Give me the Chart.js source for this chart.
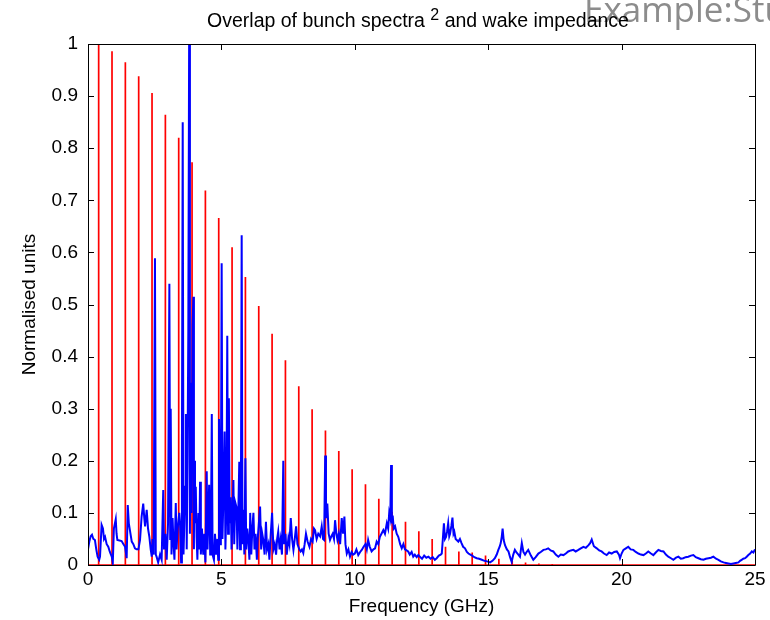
<!DOCTYPE html>
<html>
<head>
<meta charset="utf-8">
<script src="https://cdn.jsdelivr.net/npm/chart.js@4"></script>
<style>
  html, body { margin: 0; padding: 0; background: #fff; }
  #wrap { width: 770px; height: 620px; }
</style>
</head>
<body>
<div id="wrap"><canvas id="overlapChart" width="770" height="620"></canvas></div>
<script>
// bunch spectrum squared: harmonic lines (GHz) and heights
const harmonicFreq = [0.4, 0.9, 1.4, 1.9, 2.4, 2.9, 3.4, 3.9, 4.4, 4.9, 5.4, 5.9, 6.4, 6.9, 7.4, 7.9, 8.4, 8.9,
    9.4, 9.9, 10.4, 10.9, 11.4, 11.9, 12.4, 12.9, 13.4, 13.9, 14.4, 14.9, 15.4, 15.9, 16.4, 16.9, 17.4];
const harmonicAmp = [1.0, 0.986, 0.965, 0.938, 0.906, 0.864, 0.820, 0.773, 0.719, 0.666, 0.610, 0.553, 0.497, 0.444,
    0.393, 0.343, 0.299, 0.258, 0.219, 0.184, 0.155, 0.127, 0.102, 0.083, 0.065, 0.050, 0.035, 0.026, 0.024, 0.018,
    0.012, 0.008, 0.005, 0.003, 0.002];

// wake impedance (blue)
const wakeFreq = [0.00, 0.05, 0.10, 0.15, 0.20, 0.26, 0.31, 0.36, 0.42, 0.45, 0.51, 0.56, 0.60, 0.64, 0.70, 0.76, 0.82,
    0.89, 0.93, 0.97, 1.04, 1.07, 1.10, 1.18, 1.26, 1.33, 1.39, 1.45, 1.49, 1.53, 1.57, 1.64, 1.70, 1.76, 1.82, 1.89,
    1.95, 2.01, 2.07, 2.11, 2.14, 2.20, 2.25, 2.30, 2.35, 2.39, 2.42, 2.46, 2.51, 2.54, 2.57, 2.63, 2.70, 2.76, 2.82,
    2.85, 2.90, 2.95, 3.00, 3.05, 3.08, 3.10, 3.13, 3.17, 3.20, 3.24, 3.29, 3.32, 3.36, 3.42, 3.45, 3.49, 3.52, 3.55,
    3.58, 3.61, 3.64, 3.67, 3.70, 3.73, 3.76, 3.79, 3.82, 3.85, 3.88, 3.92, 3.95, 3.97, 3.98, 4.01, 4.04, 4.07, 4.10,
    4.14, 4.17, 4.20, 4.23, 4.27, 4.32, 4.36, 4.40, 4.45, 4.48, 4.51, 4.54, 4.58, 4.61, 4.64, 4.67, 4.72, 4.76, 4.80,
    4.85, 4.88, 4.91, 4.95, 4.98, 5.01, 5.04, 5.08, 5.12, 5.15, 5.19, 5.22, 5.25, 5.28, 5.31, 5.35, 5.38, 5.42, 5.45,
    5.48, 5.52, 5.57, 5.60, 5.63, 5.67, 5.70, 5.73, 5.76, 5.79, 5.82, 5.86, 5.90, 5.93, 5.97, 6.01, 6.05, 6.08, 6.12,
    6.16, 6.20, 6.24, 6.28, 6.33, 6.36, 6.40, 6.45, 6.49, 6.53, 6.57, 6.62, 6.67, 6.71, 6.76, 6.80, 6.85, 6.90, 6.95,
    7.00, 7.05, 7.09, 7.13, 7.18, 7.22, 7.27, 7.32, 7.35, 7.40, 7.45, 7.51, 7.55, 7.60, 7.65, 7.70, 7.75, 7.80, 7.85,
    7.92, 7.97, 8.02, 8.07, 8.12, 8.17, 8.23, 8.30, 8.36, 8.42, 8.47, 8.51, 8.57, 8.63, 8.70, 8.76, 8.81, 8.85, 8.89,
    8.92, 8.97, 9.02, 9.07, 9.12, 9.17, 9.22, 9.26, 9.31, 9.35, 9.40, 9.45, 9.51, 9.56, 9.61, 9.65, 9.70, 9.76, 9.82,
    9.88, 9.94, 10.00, 10.06, 10.13, 10.20, 10.26, 10.33, 10.40, 10.45, 10.50, 10.56, 10.63, 10.70, 10.76, 10.82,
    10.88, 10.94, 11.00, 11.07, 11.13, 11.20, 11.25, 11.29, 11.33, 11.36, 11.39, 11.42, 11.46, 11.51, 11.57, 11.63,
    11.70, 11.76, 11.82, 11.88, 11.94, 12.00, 12.06, 12.13, 12.19, 12.25, 12.32, 12.38, 12.44, 12.52, 12.60, 12.68,
    12.76, 12.84, 12.92, 13.00, 13.07, 13.15, 13.22, 13.26, 13.30, 13.34, 13.38, 13.42, 13.46, 13.50, 13.54, 13.57,
    13.62, 13.66, 13.70, 13.73, 13.78, 13.82, 13.88, 13.94, 14.00, 14.06, 14.13, 14.20, 14.26, 14.33, 14.40, 14.48,
    14.57, 14.66, 14.76, 14.86, 14.96, 15.07, 15.16, 15.25, 15.32, 15.38, 15.43, 15.47, 15.51, 15.54, 15.58, 15.63,
    15.70, 15.76, 15.82, 15.88, 15.94, 16.00, 16.06, 16.13, 16.19, 16.26, 16.32, 16.38, 16.44, 16.50, 16.60, 16.69,
    16.78, 16.88, 16.97, 17.07, 17.16, 17.25, 17.34, 17.44, 17.53, 17.63, 17.72, 17.82, 17.91, 18.00, 18.10, 18.19,
    18.28, 18.38, 18.47, 18.57, 18.66, 18.76, 18.82, 18.88, 18.96, 19.07, 19.16, 19.25, 19.34, 19.44, 19.53, 19.63,
    19.72, 19.82, 19.90, 19.94, 20.00, 20.07, 20.16, 20.25, 20.34, 20.44, 20.53, 20.63, 20.72, 20.82, 20.91, 21.00,
    21.10, 21.19, 21.28, 21.38, 21.47, 21.57, 21.66, 21.75, 21.85, 21.94, 22.04, 22.13, 22.22, 22.31, 22.40, 22.50,
    22.60, 22.69, 22.78, 22.88, 22.97, 23.07, 23.16, 23.26, 23.35, 23.44, 23.54, 23.63, 23.72, 23.82, 23.91, 24.00,
    24.10, 24.19, 24.28, 24.38, 24.44, 24.50, 24.56, 24.63, 24.69, 24.75, 24.82, 24.88, 24.94, 25.00];
const wakeAmp = [0.03, 0.045, 0.055, 0.058, 0.05, 0.048, 0.03, 0.016, 0.01, 0.016, 0.077, 0.07, 0.05, 0.054, 0.04, 0.035, 0.025,
    0.016, 0.005, 0.07, 0.088, 0.06, 0.048, 0.047, 0.046, 0.04, 0.035, 0.013, 0.115, 0.08, 0.067, 0.045, 0.04, 0.032, 0.03, 0.03,
    0.048, 0.093, 0.118, 0.09, 0.074, 0.106, 0.07, 0.054, 0.03, 0.016, 0.05, 0.02, 0.589, 0.02, 0.016, 0.005, 0.02, 0.01, 0.144,
    0.03, 0.06, 0.01, 0.08, 0.54, 0.05, 0.30, 0.02, 0.09, 0.048, 0.01, 0.119, 0.03, 0.07, 0.1, 0.08, 0.005, 0.2, 0.85,
    0.02, 0.08, 0.15, 0.29, 0.03, 0.2, 0.45, 1.0, 0.06, 0.35, 0.1, 0.46, 0.515, 0.03, 0.2, 0.08, 0.15, 0.054, 0.01,
    0.1, 0.03, 0.16, 0.02, 0.07, 0.02, 0.06, 0.005, 0.18, 0.03, 0.09, 0.154, 0.02, 0.08, 0.29, 0.02, 0.01, 0.06, 0.02,
    0.05, 0.01, 0.28, 0.04, 0.12, 0.579, 0.05, 0.14, 0.256, 0.03, 0.12, 0.44, 0.06, 0.32, 0.08, 0.13, 0.03, 0.1, 0.163,
    0.04, 0.12, 0.11, 0.03, 0.09, 0.198, 0.03, 0.1, 0.633, 0.04, 0.106, 0.02, 0.205, 0.03, 0.07, 0.048, 0.01, 0.1, 0.02,
    0.07, 0.1, 0.03, 0.06, 0.01, 0.05, 0.077, 0.112, 0.03, 0.06, 0.048, 0.02, 0.083, 0.03, 0.04, 0.01, 0.06, 0.1, 0.03,
    0.04, 0.02, 0.05, 0.064, 0.03, 0.048, 0.02, 0.2, 0.04, 0.06, 0.02, 0.051, 0.04, 0.09, 0.05, 0.029, 0.05, 0.074, 0.04,
    0.03, 0.026, 0.03, 0.023, 0.04, 0.06, 0.045, 0.035, 0.05, 0.045, 0.07, 0.067, 0.05, 0.06, 0.055, 0.074, 0.05, 0.048, 0.21,
    0.09, 0.118, 0.06, 0.048, 0.055, 0.06, 0.05, 0.086, 0.06, 0.048, 0.06, 0.04, 0.09, 0.06, 0.093, 0.04, 0.022, 0.03, 0.016,
    0.025, 0.02, 0.022, 0.03, 0.019, 0.025, 0.029, 0.035, 0.04, 0.03, 0.048, 0.035, 0.026, 0.03, 0.032, 0.045,
    0.04, 0.054, 0.06, 0.067, 0.06, 0.08, 0.07, 0.1, 0.09, 0.192, 0.08, 0.095, 0.07, 0.074, 0.06, 0.054,
    0.04, 0.032, 0.04, 0.03, 0.028, 0.026, 0.02, 0.025, 0.016, 0.02, 0.015, 0.019, 0.016, 0.012, 0.018, 0.014,
    0.016, 0.012, 0.015, 0.01, 0.013, 0.018, 0.02, 0.022, 0.05, 0.08, 0.05, 0.054, 0.065, 0.08, 0.055, 0.06,
    0.075, 0.091, 0.06, 0.064, 0.05, 0.048, 0.045, 0.05, 0.042, 0.035, 0.032, 0.025, 0.022, 0.02, 0.018, 0.015,
    0.013, 0.012, 0.01, 0.008, 0.007, 0.005, 0.008, 0.013, 0.02, 0.029, 0.035, 0.042, 0.055, 0.07, 0.048, 0.038,
    0.03, 0.026, 0.015, 0.006, 0.02, 0.029, 0.024, 0.02, 0.016, 0.042, 0.025, 0.02, 0.025, 0.029, 0.018, 0.01,
    0.015, 0.022, 0.025, 0.029, 0.03, 0.032, 0.028, 0.026, 0.02, 0.016, 0.02, 0.019, 0.022, 0.026, 0.028, 0.029,
    0.026, 0.029, 0.032, 0.035, 0.033, 0.038, 0.042, 0.049, 0.036, 0.032, 0.028, 0.026, 0.022, 0.019, 0.024, 0.022,
    0.025, 0.026, 0.02, 0.013, 0.022, 0.029, 0.032, 0.035, 0.03, 0.029, 0.025, 0.022, 0.02, 0.019, 0.022, 0.026,
    0.022, 0.019, 0.024, 0.029, 0.027, 0.026, 0.02, 0.016, 0.013, 0.01, 0.014, 0.016, 0.012, 0.013, 0.015, 0.016,
    0.018, 0.019, 0.015, 0.013, 0.011, 0.01, 0.012, 0.013, 0.014, 0.016, 0.012, 0.01, 0.007, 0.005, 0.004, 0.003,
    0.002, 0.003, 0.004, 0.005, 0.008, 0.01, 0.012, 0.013, 0.016, 0.019, 0.022, 0.026, 0.024, 0.03];

// axis ticks
const xTicks = [0, 5, 10, 15, 20, 25];
const xTickLabels = ['0', '5', '10', '15', '20', '25'];
const yTicks = [0, 0.1, 0.2, 0.3, 0.4, 0.5, 0.6, 0.7, 0.8, 0.9, 1];
const yTickLabels = ['0', '0.1', '0.2', '0.3', '0.4', '0.5', '0.6', '0.7', '0.8', '0.9', '1'];

const FONT = '"Liberation Sans", Arial, sans-serif';
const FS = 19;

// red spectrum as vertical lines rising from zero
const spectrumPoints = [{ x: 0, y: 0 }];
harmonicFreq.forEach((f, i) => {
    spectrumPoints.push({ x: f, y: 0 }, { x: f, y: harmonicAmp[i] }, { x: f, y: 0 });
});
spectrumPoints.push({ x: 25, y: 0 });

const wakePoints = wakeFreq.map((f, i) => ({ x: f, y: wakeAmp[i] }));

// matlab-like box with inward ticks, title and a stray slide header
const matlabFrame = {
    id: 'matlabFrame',
    afterDraw(chart) {
        const { ctx, chartArea: a, scales } = chart;
        const t = 6;
        ctx.save();
        ctx.strokeStyle = '#000';
        ctx.lineWidth = 1;
        ctx.beginPath();
        ctx.rect(Math.round(a.left) + 0.5, Math.round(a.top) + 0.5,
            Math.round(a.right - a.left), Math.round(a.bottom - a.top));
        xTicks.forEach(v => {
            const px = Math.round(scales.x.getPixelForValue(v)) + 0.5;
            ctx.moveTo(px, a.bottom); ctx.lineTo(px, a.bottom - t);
            ctx.moveTo(px, a.top); ctx.lineTo(px, a.top + t);
        });
        yTicks.forEach(v => {
            const py = Math.round(scales.y.getPixelForValue(v)) + 0.5;
            ctx.moveTo(a.left, py); ctx.lineTo(a.left + t, py);
            ctx.moveTo(a.right, py); ctx.lineTo(a.right - t, py);
        });
        ctx.stroke();

        // slide header peeking in at the top right
        ctx.fillStyle = '#8c8c8c';
        ctx.textBaseline = 'alphabetic';
        ctx.textAlign = 'left';
        ctx.font = '35px "Open Sans", ' + FONT;
        ctx.fillText('Example:Study', 584, 22);

        // title with raised 2
        const p1 = 'Overlap of bunch spectra ';
        const p2 = '2';
        const p3 = ' and wake impedance';
        ctx.fillStyle = '#000';
        ctx.font = '19.5px ' + FONT;
        const w1 = ctx.measureText(p1).width;
        const w3 = ctx.measureText(p3).width;
        ctx.font = '16px ' + FONT;
        const w2 = ctx.measureText(p2).width;
        const x0 = 418 - (w1 + w2 + w3) / 2;
        ctx.font = '19.5px ' + FONT;
        ctx.fillText(p1, x0, 27);
        ctx.fillText(p3, x0 + w1 + w2, 27);
        ctx.font = '16px ' + FONT;
        ctx.fillText(p2, x0 + w1, 20);
        ctx.restore();
    }
};

const ctx = document.getElementById('overlapChart').getContext('2d');
new Chart(ctx, {
    type: 'line',
    data: {
        datasets: [{
            label: 'Wake impedance',
            data: wakePoints,
            borderColor: '#0000ff',
            borderWidth: 2,
            pointRadius: 0,
            tension: 0,
            order: 1
        }, {
            label: 'Bunch spectrum squared',
            data: spectrumPoints,
            borderColor: '#ff0000',
            borderWidth: 1.7,
            pointRadius: 0,
            tension: 0,
            order: 2
        }]
    },
    options: {
        responsive: false,
        animation: false,
        events: [],
        layout: { padding: { left: 0, right: 15, top: 44, bottom: 0 } },
        plugins: {
            legend: { display: false },
            tooltip: { enabled: false }
        },
        scales: {
            x: {
                type: 'linear',
                min: 0,
                max: 25,
                afterBuildTicks: scale => { scale.ticks = xTicks.map(v => ({ value: v })); },
                afterFit: scale => { scale.height = 55; },
                grid: { display: false, drawTicks: false },
                border: { display: false },
                ticks: {
                    padding: 3,
                    color: '#000',
                    font: { family: FONT, size: FS },
                    maxRotation: 0,
                    callback: (v, i) => xTickLabels[i]
                },
                title: {
                    display: true,
                    text: 'Frequency (GHz)',
                    color: '#000',
                    font: { family: FONT, size: FS },
                    padding: { top: 0, bottom: 2 }
                }
            },
            y: {
                type: 'linear',
                min: 0,
                max: 1,
                afterBuildTicks: scale => { scale.ticks = yTicks.map(v => ({ value: v })); },
                afterFit: scale => { scale.width = 88; },
                grid: { display: false, drawTicks: false },
                border: { display: false },
                ticks: {
                    padding: 10,
                    color: '#000',
                    font: { family: FONT, size: FS },
                    callback: (v, i) => yTickLabels[i]
                },
                title: {
                    display: true,
                    text: 'Normalised units',
                    color: '#000',
                    font: { family: FONT, size: FS },
                    padding: { top: 18, bottom: 0 }
                }
            }
        }
    },
    plugins: [matlabFrame]
});
</script>
</body>
</html>
